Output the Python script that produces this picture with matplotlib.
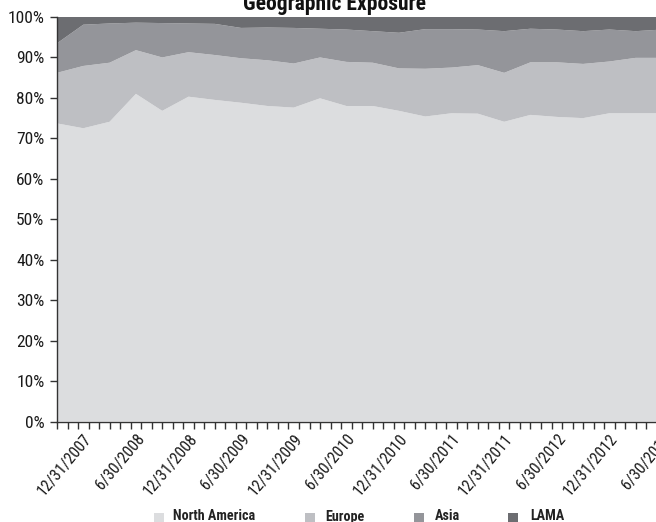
import numpy as np
import matplotlib
matplotlib.use('Agg')
import matplotlib.pyplot as plt
from matplotlib.patches import Rectangle

plt.rcParams['font.family'] = ['Roboto Condensed', 'Liberation Sans Narrow', 'Roboto', 'DejaVu Sans']

# Quarter-end dates (first point is left edge of the axis)
dates = ['9/30/2007', '12/31/2007', '3/31/2008', '6/30/2008', '9/30/2008', '12/31/2008',
         '3/31/2009', '6/30/2009', '9/30/2009', '12/31/2009', '3/31/2010', '6/30/2010',
         '9/30/2010', '12/31/2010', '3/31/2011', '6/30/2011', '9/30/2011', '12/31/2011',
         '3/31/2012', '6/30/2012', '9/30/2012', '12/31/2012', '3/31/2013', '6/30/2013']

# Shares in percent
north_america = [73.7, 72.5, 74.1, 81.0, 76.8, 80.3, 79.5, 78.8, 78.0, 77.6, 79.9, 78.0,
                 78.0, 76.8, 75.4, 76.2, 76.1, 74.1, 75.8, 75.3, 75.0, 76.2, 76.2, 76.2]
europe = [12.5, 15.4, 14.6, 10.8, 13.2, 11.0, 11.1, 11.0, 11.3, 10.9, 10.1, 10.9,
          10.7, 10.5, 11.8, 11.3, 12.0, 12.1, 13.0, 13.5, 13.4, 12.8, 13.7, 13.7]
asia = [7.3, 10.2, 9.7, 6.8, 8.5, 7.1, 7.7, 7.5, 8.1, 8.8, 7.1, 8.0,
        7.8, 8.8, 9.8, 9.5, 8.8, 10.3, 8.3, 8.1, 8.1, 7.9, 6.6, 7.0]
lama = [6.5, 1.9, 1.6, 1.4, 1.5, 1.6, 1.7, 2.7, 2.6, 2.7, 2.9, 3.1,
        3.5, 3.9, 3.0, 3.0, 3.1, 3.5, 2.9, 3.1, 3.5, 3.1, 3.5, 3.1]

series_names = ['North America', 'Europe', 'Asia', 'LAMA']
colors = ['#dcdddf', '#bebfc3', '#94959a', '#6c6d71']

W, H = 656, 522
fig = plt.figure(figsize=(W / 100, H / 100), dpi=100)
ax = fig.add_axes([57 / W, 1 - 421.5 / H, 605 / W, 404.5 / H])

x = np.arange(len(dates))
ax.stackplot(x, north_america, europe, asia, lama, colors=colors, linewidth=0)

ax.set_xlim(0, len(dates) - 1)
ax.set_ylim(0, 100)

# y axis
yt = np.arange(0, 101, 10)
ax.set_yticks(yt)
ax.set_yticklabels([f'{v}%' for v in yt], fontsize=12.5, color='#1a1a1a')
ax.tick_params(axis='y', length=5, width=1, color='#333333', pad=4)

# x axis: labels every other quarter, small ticks in between
ax.set_xticks(x[1::2])
ax.set_xticklabels(dates[1::2], rotation=50, ha='right', va='top',
                   rotation_mode='anchor', fontsize=11.5, color='#1a1a1a')
ax.tick_params(axis='x', which='major', length=0, pad=7)
ax.set_xticks(np.arange(0, len(dates) - 1 + 0.01, 0.4), minor=True)
ax.tick_params(axis='x', which='minor', length=5, width=1, color='#333333')

for s in ['top', 'right']:
    ax.spines[s].set_visible(False)
for s in ['left', 'bottom']:
    ax.spines[s].set_color('#333333')
    ax.spines[s].set_linewidth(1)
    ax.spines[s].set_zorder(5)

fig.text(335 / W, 1 - 10 / H, 'Geographic Exposure', ha='center', va='baseline',
         fontsize=15.5, fontweight='bold', color='#111111')

# legend
sq_x = [154, 305, 414, 508]
tx_x = [173, 325, 435, 530]
for name, c, sx, tx in zip(series_names, colors, sq_x, tx_x):
    fig.add_artist(Rectangle((sx / W, 0), 10 / W, 9 / H, transform=fig.transFigure,
                             facecolor=c, edgecolor='none'))
    fig.text(tx / W, 1.5 / H, name, ha='left', va='baseline', fontsize=10.2,
             fontweight='bold', color='#222222')

fig.savefig('out.png', dpi=100)
